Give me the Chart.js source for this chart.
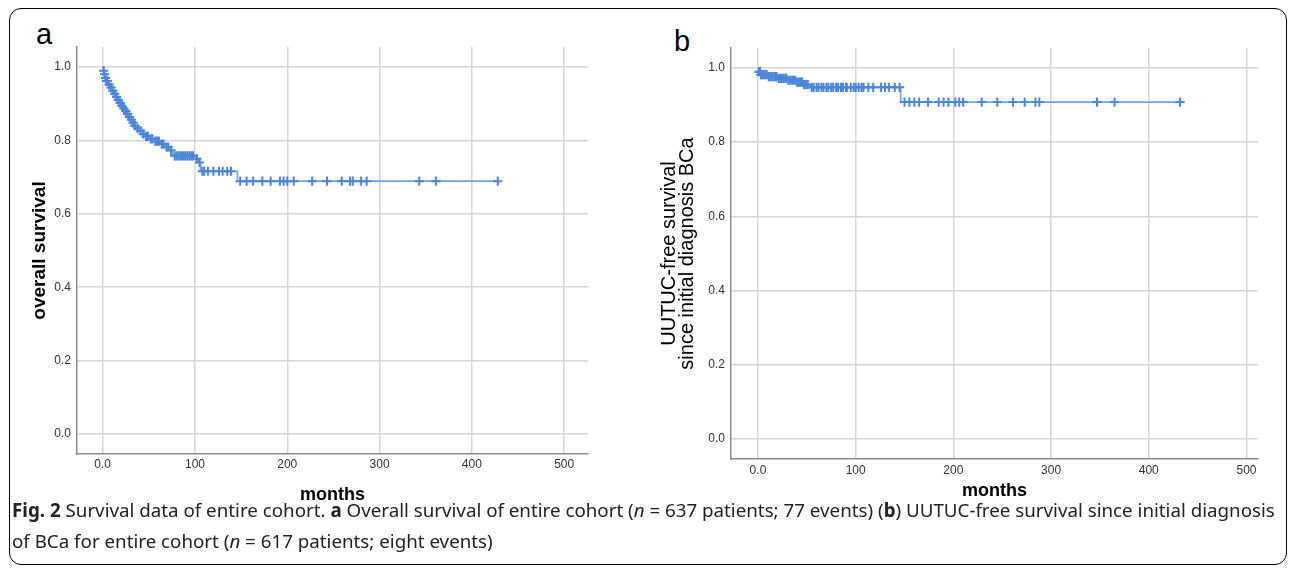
<!DOCTYPE html>
<html>
<head>
<meta charset="utf-8">
<script src="https://cdn.jsdelivr.net/npm/chart.js@4.4.1/dist/chart.umd.min.js"></script>
<style>
  html, body { margin: 0; padding: 0; background: #fff; }
  body { width: 1295px; height: 574px; position: relative; overflow: hidden; }
  #frame { position: absolute; left: 9px; top: 8px; width: 1276px; height: 555px; border: 1.5px solid #000; border-radius: 12px; }
  .panel { position: absolute; }
  .plabel { position: absolute; font-family: "Liberation Sans", Arial, sans-serif; font-size: 29px; color: #000; line-height: 1; }
  #caption { position: absolute; left: 12px; top: 494px; font-family: "Noto Sans", "Open Sans", sans-serif; font-size: 18.5px; line-height: 31px; color: #222; white-space: nowrap; }
</style>
</head>
<body>
<div id="frame"></div>
<div class="plabel" style="left:36px; top:20px;">a</div>
<div class="plabel" style="left:674px; top:27px;">b</div>
<canvas id="ca" class="panel" style="left:0px; top:0px;" width="640" height="510"></canvas>
<canvas id="cb" class="panel" style="left:645px; top:0px;" width="650" height="510"></canvas>
<div id="caption"><span id="cl1"><b>Fig. 2</b> Survival data of entire cohort. <b>a</b> Overall survival of entire cohort (<i>n</i> = 637 patients; 77 events) (<b>b</b>) UUTUC-free survival since initial diagnosis</span><br>of BCa for entire cohort (<i>n</i> = 617 patients; eight events)</div>
<script>
// ---------- data ----------
const xTickValues = [0, 100, 200, 300, 400, 500];
const xTickLabels = ['0.0', '100', '200', '300', '400', '500'];
const yTickValues = [0, 0.2, 0.4, 0.6, 0.8, 1.0];
const yTickLabels = ['0.0', '0.2', '0.4', '0.6', '0.8', '1.0'];

// Panel a: overall survival (Kaplan-Meier steps)
const aTimes = [0, 1, 2, 3, 4, 6, 8, 10, 12, 14, 16, 18, 20, 22, 24, 26, 28, 30, 32, 34, 37, 40, 43, 46, 50, 55, 62, 67, 72, 76, 101, 104, 106, 146];
const aSurv  = [1.0, 0.99, 0.98, 0.97, 0.962, 0.952, 0.944, 0.935, 0.927, 0.918, 0.91, 0.902, 0.894, 0.887, 0.88, 0.872, 0.864, 0.856, 0.848, 0.84, 0.833, 0.826, 0.818, 0.811, 0.804, 0.798, 0.79, 0.782, 0.773, 0.758, 0.75, 0.74, 0.716, 0.689];
const aEnd = 428;
const aCensor = [1, 2, 3, 4, 5, 7, 9, 11, 13, 15, 17, 19, 21, 23, 25, 27, 29, 31, 33, 35, 38, 41, 44, 47, 49, 52, 54, 57, 59, 61, 64, 66, 69, 71, 74, 78, 80, 82, 84, 86, 88, 90, 92, 94, 96, 98, 102, 105,
  108, 110, 114, 120, 126, 130, 135, 139,
  149, 156, 163, 173, 182, 192, 196, 200, 207, 227, 243, 259, 268, 271, 280, 286, 343, 361, 428];

// Panel b: UUTUC-free survival (Kaplan-Meier steps)
const bTimes = [0, 0.5, 3, 10, 20, 30, 40, 46, 53, 146];
const bSurv  = [1.0, 0.99, 0.982, 0.977, 0.972, 0.967, 0.962, 0.955, 0.948, 0.908];
const bEnd = 432;
const bCensor = [1, 2, 3, 4, 5, 6, 8, 9, 11, 12, 14, 15, 17, 18, 19, 21, 23, 24, 26, 28, 29, 31, 33, 35, 36, 38, 40, 42, 44, 45, 47, 49, 51,
  55, 57, 60, 62, 65, 67, 70, 72, 75, 77, 80, 82, 85, 87, 90, 91, 95, 98, 100, 103, 106, 108, 113, 118, 126, 130, 134, 140, 145,
  150, 155, 160, 165, 174, 185, 190, 195, 202, 206, 210, 229, 245, 261, 273, 284, 288, 347, 365, 432];

// ---------- caption width fit ----------
(function fitCaption() {
  const cap = document.getElementById('caption');
  const l1 = document.getElementById('cl1');
  const target = 1263;
  const w = l1.getBoundingClientRect().width;
  if (w > 0) cap.style.fontSize = (18.5 * target / w).toFixed(2) + 'px';
})();

// ---------- helpers ----------
function stepPoints(times, surv, end) {
  const pts = times.map((t, i) => ({x: t, y: surv[i]}));
  pts.push({x: end, y: surv[surv.length - 1]});
  return pts;
}
function survAt(times, surv, t) {
  let v = surv[0];
  for (let i = 0; i < times.length; i++) { if (times[i] <= t) v = surv[i]; }
  return v;
}
const LINE = '#73a3e8';
const MARK = '#4a86dc';
const FONT = '"Liberation Sans", Arial, sans-serif';

function makeChart(id, cfg) {
  const ctx = document.getElementById(id);
  return new Chart(ctx, {
    type: 'scatter',
    data: {
      datasets: [
        {
          data: stepPoints(cfg.times, cfg.surv, cfg.end),
          showLine: true, stepped: true, borderColor: LINE, borderWidth: 1.7,
          pointRadius: 0, fill: false, order: 2
        },
        {
          data: cfg.censor.map(t => ({x: t, y: survAt(cfg.times, cfg.surv, t)})),
          showLine: false, pointStyle: 'cross', pointRadius: 4.6,
          borderColor: MARK, borderWidth: 2, backgroundColor: MARK, order: 1
        }
      ]
    },
    options: {
      responsive: false, animation: false, events: [],
      layout: { padding: { top: cfg.top, right: cfg.right, left: 0, bottom: 0 } },
      plugins: { legend: { display: false }, tooltip: { enabled: false } },
      scales: {
        x: {
          type: 'linear', min: cfg.xmin, max: cfg.xmax,
          afterBuildTicks: s => { s.ticks = xTickValues.map(v => ({value: v})); },
          afterFit: s => { s.height = cfg.xh; },
          ticks: { callback: (v) => xTickLabels[xTickValues.indexOf(v)], color: '#333', font: { family: FONT, size: 12 }, padding: cfg.xpad, maxRotation: 0, autoSkip: false },
          grid: { color: '#d6d6d6', lineWidth: 1.5, drawTicks: false },
          border: { display: true, color: '#8c8c8c', width: 1.5 },
          title: { display: true, text: 'months', color: '#000', font: { family: FONT, size: 18, weight: 'bold', lineHeight: 1.2 }, padding: { top: 0, bottom: cfg.mpad } }
        },
        y: {
          type: 'linear', min: cfg.ymin, max: cfg.ymax,
          afterBuildTicks: s => { s.ticks = yTickValues.map(v => ({value: v})); },
          afterFit: s => { s.width = cfg.yw; },
          ticks: { callback: (v) => yTickLabels[yTickValues.indexOf(v)], color: '#333', font: { family: FONT, size: 12 }, padding: 6 },
          grid: { color: '#d6d6d6', lineWidth: 1.5, drawTicks: false },
          border: { display: true, color: '#8c8c8c', width: 1.5 },
          title: { display: true, text: cfg.ytitle, color: '#000', font: cfg.yfont, padding: { top: cfg.ytpad, bottom: 0 } }
        }
      }
    }
  });
}

makeChart('ca', {
  times: aTimes, surv: aSurv, end: aEnd, censor: aCensor,
  xmin: -27.8, xmax: 525.8, ymin: -0.0545, ymax: 1.0545,
  top: 47, right: 52, yw: 77, xh: 56, xpad: 3, mpad: 4,
  ytitle: 'overall survival', yfont: { family: FONT, size: 19, weight: 'bold', lineHeight: 1.2 }, ytpad: 28
});

makeChart('cb', {
  times: bTimes, surv: bSurv, end: bEnd, censor: bCensor,
  xmin: -27.6, xmax: 511.8, ymin: -0.055, ymax: 1.054,
  top: 48, right: 37, yw: 86, xh: 51, xpad: 4, mpad: 8,
  ytitle: ['UUTUC-free survival', 'since initial diagnosis BCa'], yfont: { family: FONT, size: 20, weight: 'normal', lineHeight: 0.9 }, ytpad: 15
});
</script>
</body>
</html>
